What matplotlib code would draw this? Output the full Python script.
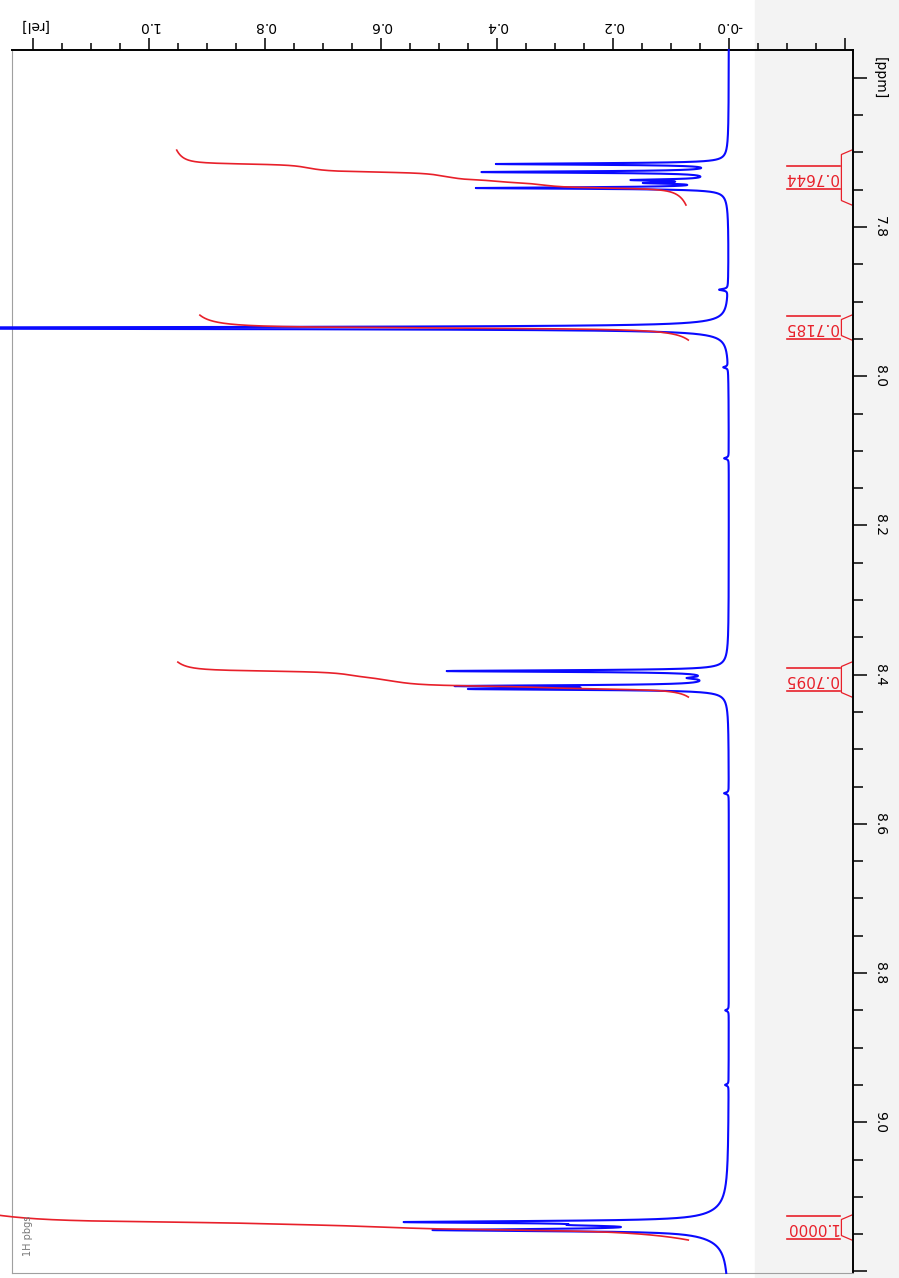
import numpy as np
import matplotlib.pyplot as plt
from matplotlib.patches import Rectangle
from matplotlib.ticker import MultipleLocator

# peak list: position [ppm], height [rel], half width [ppm]
peak_ppm = [7.7155, 7.7263, 7.7370, 7.7410, 7.7477,
            7.9354,
            8.3952, 8.4045, 8.4153, 8.4193,
            9.1338, 9.1378, 9.1445]
peak_height = [0.39, 0.405, 0.13, 0.105, 0.42,
               2.0,
               0.47, 0.03, 0.42, 0.40,
               0.475, 0.12, 0.43]
peak_width = [0.0012, 0.0012, 0.0012, 0.0012, 0.0012,
              0.0012,
              0.0013, 0.0015, 0.0013, 0.0013,
              0.0016, 0.0016, 0.0016]

# broad feet under the multiplets
broad_ppm = [7.735, 7.935, 8.405, 9.140]
broad_height = [0.02, 0.025, 0.025, 0.07]
broad_width = [0.012, 0.008, 0.010, 0.015]

# small baseline blips
blip_ppm = [7.884, 7.988, 8.110, 8.559, 8.850, 8.950]
blip_height = [0.015, 0.008, 0.008, 0.008, 0.006, 0.006]

# integrals
int_lo = [7.6968, 7.9180, 8.3831, 9.1244]
int_hi = [7.7705, 7.9515, 8.4300, 9.1579]
int_start = [0.074, 0.070, 0.070, 0.070]
int_end = [0.952, 0.912, 0.950, 1.260]
int_label = ["0.7644", "0.7185", "0.7095", "1.0000"]

x_major = [1.2, 1.0, 0.8, 0.6, 0.4, 0.2, 0.0, -0.2]
x_labels = ["[rel]", "1.0", "0.8", "0.6", "0.4", "0.2", "-0.0", ""]
y_major = [7.6, 7.8, 8.0, 8.2, 8.4, 8.6, 8.8, 9.0, 9.2]
y_labels = ["[ppm]", "7.8", "8.0", "8.2", "8.4", "8.6", "8.8", "9.0", ""]

ppm = np.arange(7.5627, 9.2021, 0.0001)


def lorentz(pos, h, w):
    return h * w ** 2 / ((ppm - pos) ** 2 + w ** 2)


spec = np.zeros_like(ppm)
for p, h, w in zip(peak_ppm, peak_height, peak_width):
    spec += lorentz(p, h, w)
for p, h, w in zip(broad_ppm, broad_height, broad_width):
    spec += lorentz(p, h, w)
for p, h in zip(blip_ppm, blip_height):
    spec += lorentz(p, h, 0.0012)

fig = plt.figure(figsize=(8.99, 12.78), dpi=100)
fig.patches.append(Rectangle((755 / 899, 0), 1 - 755 / 899, 1, transform=fig.transFigure,
                             color='#f3f3f3', zorder=-5))
ax = fig.add_axes([12 / 899, 5 / 1278, 841 / 899, 1223 / 1278])
ax.set_facecolor('none')

ax.plot(spec, ppm, color='#0a0aff', lw=1.5, clip_on=False, zorder=3)

red = '#e8202a'
for lo, hi, s, e, lab in zip(int_lo, int_hi, int_start, int_end, int_label):
    m = (ppm >= lo) & (ppm <= hi)
    seg = ppm[m][::-1]
    cum = np.cumsum(spec[m][::-1])
    cum = (cum - cum[0]) / (cum[-1] - cum[0])
    ax.plot(s + (e - s) * cum, seg, color=red, lw=1.2, clip_on=False, zorder=4)

    mid = (lo + hi) / 2
    ax.text(-0.143, mid, lab, rotation=180, color=red, fontsize=11,
            ha='center', va='center')
    ax.plot([-0.1, -0.191], [mid - 0.0149] * 2, color=red, lw=1.2)
    ax.plot([-0.1, -0.191], [mid + 0.0149] * 2, color=red, lw=1.2)
    ax.plot([-0.212, -0.194, -0.194, -0.212],
            [lo, lo + 0.006, hi - 0.006, hi], color=red, lw=0.9)

ax.set_xlim(1.236, -0.214)
ax.set_ylim(9.2021, 7.5627)
ax.xaxis.tick_top()
ax.yaxis.tick_right()
ax.set_xticks(x_major)
ax.set_xticklabels(x_labels, rotation=180)
ax.set_yticks(y_major)
ax.set_yticklabels(y_labels, rotation=-90, va='center')
ax.xaxis.set_minor_locator(MultipleLocator(0.05))
ax.yaxis.set_minor_locator(MultipleLocator(0.05))
ax.tick_params(axis='x', which='major', length=8.5, width=1.1, pad=4, labelsize=10)
ax.tick_params(axis='x', which='minor', length=5, width=1.1)
ax.tick_params(axis='y', which='major', length=10, width=1.1, pad=4.5, labelsize=10)
ax.tick_params(axis='y', which='minor', length=7, width=1.1)

for side in ['top', 'right']:
    ax.spines[side].set_linewidth(1.4)
for side in ['left', 'bottom']:
    ax.spines[side].set_color('#a0a0a0')

fig.text(28 / 899, 1 - 1236 / 1278, "1H pbgs", rotation=90, fontsize=7,
         color='#777777', ha='center', va='center')

fig.savefig('out.png', dpi=100)
